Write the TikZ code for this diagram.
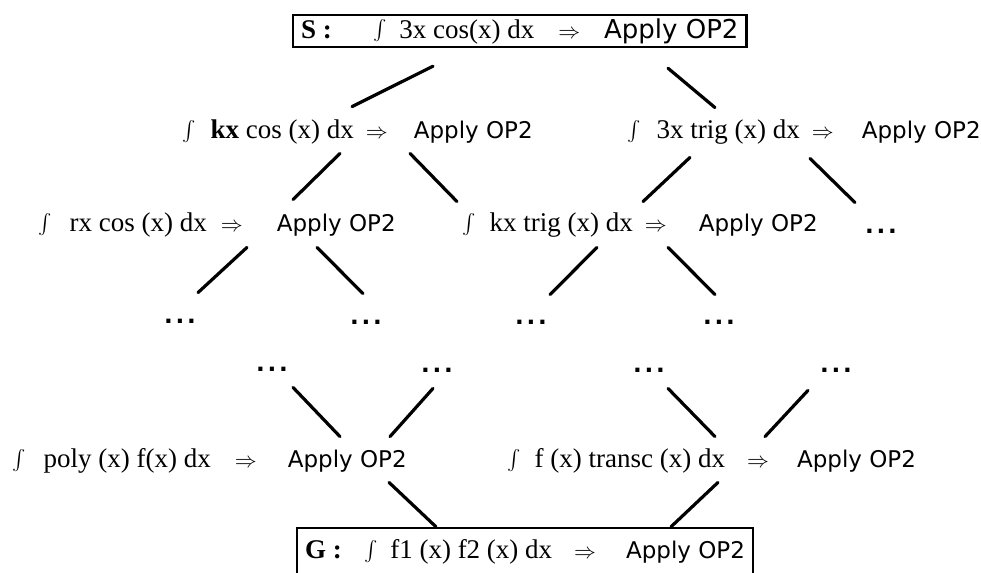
\documentclass[tikz,border=0pt]{standalone}
\usepackage{fontspec}
\setmainfont{Liberation Serif}
\setsansfont{DejaVu Sans}
\usetikzlibrary{calc}
\tikzset{
  % boxes for start and goal
  goal/.style={draw, line width=1.2pt, anchor=west, inner xsep=4pt, inner ysep=0pt, font=\fontsize{13.5}{15}\selectfont},
  % one rewriting step of the lattice
  term/.style={anchor=west, inner sep=0pt, text height=8pt, text depth=2.5pt, font=\fontsize{13.5}{15}\selectfont},
  etc/.style={inner sep=0pt, minimum height=6pt, font=\fontsize{11.5}{14}\selectfont},
  edge/.style={line width=1.6pt, line cap=round},
}
\newcommand{\apply}{{\fontsize{11.5}{14}\selectfont\sffamily Apply OP2}}
\newcommand{\yields}{{\fontsize{11}{13}\selectfont$\Rightarrow$}}
\newcommand{\moredots}{\textsf{\bfseries .\kern1.4pt.\kern1.4pt.}}

\begin{document}
\begin{tikzpicture}[x=0.5pt, y=-0.5pt]
  \useasboundingbox (0,0) rectangle (981,573);

  % start
  \node[goal, minimum height=16pt] (s) at (292,31)
    {\textbf{S :}\hspace{21pt}$\int$\hspace{6pt}3x cos(x) dx\hspace{12pt}\yields\hspace{12pt}{\fontsize{13}{15}\selectfont\sffamily Apply OP2}\hspace{9pt}};

  % first level
  \node[term] (r1a) at (182,133) {$\int$\hspace{7.5pt}\textbf{kx} cos (x) dx\hspace{6pt}\yields\hspace{13pt}\apply};
  \node[term] (r1b) at (627,133) {$\int$\hspace{8pt}3x trig (x) dx\hspace{6pt}\yields\hspace{14pt}\apply};

  % second level
  \node[term] (r2a) at (38,226) {$\int$\hspace{9pt}rx cos (x) dx\hspace{7pt}\yields\hspace{17pt}\apply};
  \node[term] (r2b) at (462,226) {$\int$\hspace{7pt}kx trig (x) dx\hspace{6pt}\yields\hspace{16pt}\apply};
  \node[etc] (r2c) at (881,231) {\moredots};

  % dots
  \node[etc] (c1) at (180,321) {\moredots};
  \node[etc] (c2) at (366,322) {\moredots};
  \node[etc] (c3) at (531,322) {\moredots};
  \node[etc] (c4) at (719,322) {\moredots};
  \node[etc] (d1) at (272,369) {\moredots};
  \node[etc] (d2) at (437,370) {\moredots};
  \node[etc] (d3) at (649,370) {\moredots};
  \node[etc] (d4) at (836,370) {\moredots};

  % last level
  \node[term] (r5a) at (12,462) {$\int$\hspace{9pt}poly (x) f(x) dx\hspace{12pt}\yields\hspace{15.5pt}\apply};
  \node[term] (r5b) at (507,462) {$\int$\hspace{7pt}f (x) transc (x) dx\hspace{11pt}\yields\hspace{14pt}\apply};

  % goal
  \node[goal, minimum height=24pt] (g) at (296,552)
    {\textbf{G :}\hspace{11.5pt}$\int$\hspace{6pt}f1 (x) f2 (x) dx\hspace{11pt}\yields\hspace{15pt}\apply\hspace{2pt}};

  % edges
  \draw[edge] ([shift={(141,18)}]s.south west) -- ([shift={(170,-15.5)}]r1a.north west);
  \draw[edge] ([shift={(376,20)}]s.south west) -- ([shift={(88,-14.5)}]r1b.north west);
  \draw[edge] ([shift={(158,9.5)}]r1a.south west) -- ([shift={(255,-15.5)}]r2a.north west);
  \draw[edge] ([shift={(228,9.5)}]r1a.south west) -- ([shift={(-5,-13.5)}]r2b.north west);
  \draw[edge] ([shift={(63,13.5)}]r1b.south west) -- ([shift={(181,-13.5)}]r2b.north west);
  \draw[edge] ([shift={(183,14.5)}]r1b.south west) -- ([shift={(-26,-22)}]r2c.north);
  \draw[edge] ([shift={(209,10.5)}]r2a.south west) -- ([shift={(18,-22)}]c1.north);
  \draw[edge] ([shift={(279,10.5)}]r2a.south west) -- ([shift={(-3,-22)}]c2.north);
  \draw[edge] ([shift={(135,10.5)}]r2b.south west) -- ([shift={(19,-21)}]c3.north);
  \draw[edge] ([shift={(206,10.5)}]r2b.south west) -- ([shift={(-4,-21)}]c4.north);
  \draw[edge] ([shift={(21,12)}]d1.south) -- ([shift={(328,-14.5)}]r5a.north west);
  \draw[edge] ([shift={(-4,12)}]d2.south) -- ([shift={(378,-14.5)}]r5a.north west);
  \draw[edge] ([shift={(19,12)}]d3.south) -- ([shift={(208,-14.5)}]r5b.north west);
  \draw[edge] ([shift={(-28,14)}]d4.south) -- ([shift={(258,-14.5)}]r5b.north west);
  \draw[edge] ([shift={(377,9.5)}]r5a.south west) -- ([shift={(140,0)}]g.north west);
  \draw[edge] ([shift={(211,9.5)}]r5b.south west) -- ([shift={(375,0)}]g.north west);
\end{tikzpicture}
\end{document}
